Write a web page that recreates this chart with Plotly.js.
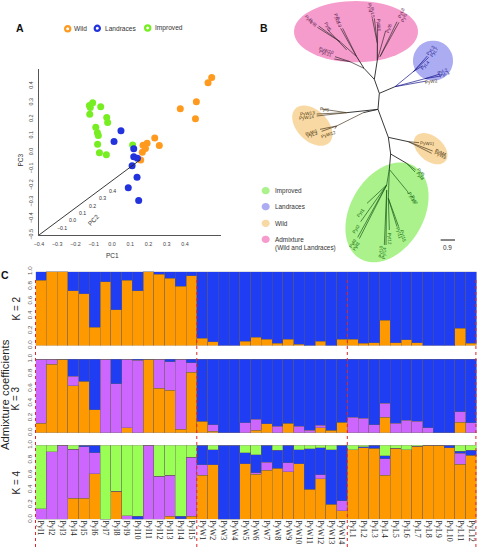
<!DOCTYPE html>
<html><head><meta charset="utf-8">
<script src="https://cdn.plot.ly/plotly-3.0.1.min.js"></script>
<style>html,body{margin:0;padding:0;background:#fff}#c{width:477px;height:548px}</style>
</head><body><div id="c"></div>
<script>
// ---------- Panel A: PCA ----------
const wildPC1 = [0.546,0.526,0.462,0.374,0.457,0.234,0.259,0.192,0.170,0.183,0.166,0.157];
const wildPC3 = [0.451,0.419,0.304,0.262,0.201,0.085,0.040,0.054,0.042,0.022,0.000,-0.048];
const landPC1 = [0.049,0.011,0.119,0.119,0.139,0.110,0.137,0.089,0.146];
const landPC3 = [0.129,0.064,0.020,-0.028,-0.036,-0.082,-0.151,-0.215,-0.292];
const imprPC1 = [-0.106,-0.124,-0.119,-0.062,-0.122,-0.029,-0.024,-0.089,-0.080,-0.075,-0.079,-0.069,-0.031,0.113];
const imprPC3 = [0.298,0.282,0.270,0.274,0.229,0.209,0.179,0.151,0.117,0.101,0.048,-0.004,-0.016,0.044];
const pc2AxisX = [-0.4,0.152];
const pc2AxisY = [-0.5,-0.048];
const pc2Ticks = ['\u22120.1','0.0','0.1','0.2','0.3','0.4'];
const pc2TickX = [-0.272,-0.217,-0.163,-0.106,-0.051,0.005];
const pc2TickY = [-0.457,-0.412,-0.368,-0.324,-0.279,-0.235];
// ---------- Panel B: unrooted tree (branch ends in tree units) ----------
const trunkEdges = [[403,238,418,280],[418,280,414,328],[414,328,445,412],[445,412,452,462],[452,462,448,508],
 [403,238,412,180],[403,238,372,205],[372,205,350,170],[418,280,465,260],[414,328,370,338],[414,328,320,338],
 [445,412,505,425],[452,462,500,490]];
const admixEdges = [[350,170,300,125],[300,125,236,78],[300,125,232,82],[320,150,262,88],[350,170,302,85],[350,170,308,85],
 [372,205,330,185],[330,185,285,170],[330,185,283,177],[412,180,412,130],[412,130,397,55],[412,130,403,55],[412,180,413,70],
 [412,180,437,92],[420,170,471,65],[420,170,477,67]];
const landEdges = [[465,260,520,215],[520,215,562,168],[520,215,566,172],[520,215,548,197],[465,260,555,236],[555,236,600,222],[555,236,602,228],[465,260,560,243]];
const wildEdges = [[320,338,245,327],[320,338,230,342],[320,338,230,348],[370,338,290,378],[290,378,240,388],[290,378,245,394],[290,378,285,386],
 [505,425,537,428],[505,425,578,453],[505,425,575,460]];
const imprEdges = [[500,490,527,510],[500,490,525,516],[448,508,503,575],[503,575,505,582],[448,508,440,555],[440,555,381,610],[440,555,362,665],[440,555,353,712],[440,555,358,716],
 [448,508,445,595],[445,595,471,680],[445,595,476,680],[445,595,448,690],[440,570,433,735],[440,570,438,735]];
// tip labels: name, x, y, angle
const admixTips = [['PyI4',207,58,48],['PyI8',218,68,48],['PyI6',263,80,60],['PyL3',291,55,75],['PyL9',298,66,75],
 ['PyI4',390,25,85],['PyL5',397,38,85],['PyW6',418,75,88],['PyI6',448,83,-70],['PyL8',483,40,-68],['PyI5',492,52,-68],
 ['PyW10',258,150,18],['PyL11',257,160,18]];
const landTips = [['PyL3',571,150,-52],['PyL7',582,157,-52],['PyL4',555,197,-48],['PyL2',607,213,-22],['PyL1',612,222,-22]];
const wildTips = [['PyW2',575,244,-8],['PyI6',256,327,8],['PyW13',201,340,-6],['PyW14',200,351,-6],['PyW1',214,396,-18],['PyL3',218,404,-18],['PyW12',265,403,-18],
 ['PyW11',563,430,3],['PyM4',602,456,25],['PyW3',602,467,25]];
const imprTips = [['PyI5',543,518,50],['PyI8',541,530,50],['PyI13',515,593,62],['PyI7',523,602,62],
 ['PyI1',363,638,-52],['PyI2',349,685,-55],['PyI9',338,730,-58],['PyI8',347,738,-58],
 ['PyI12',449,715,88],['PyI11',478,700,75],['PyI15',488,707,75],['PyI10',423,755,-85],['PyI14',433,758,-85]];
// ---------- Panel C: admixture ----------
const accessions = ['PyI1','PyI2','PyI3','PyI4','PyI5','PyI6','PyI7','PyI8','PyI9','PyI10','PyI11','PyI12','PyI13','PyI14','PyI15',
 'PyW1','PyW2','PyW3','PyW4','PyW5','PyW6','PyW7','PyW8','PyW9','PyW10','PyW11','PyW12','PyW13','PyW14',
 'PyL1','PyL2','PyL3','PyL4','PyL5','PyL6','PyL7','PyL8','PyL9','PyL10','PyL11','PyL12'];
const k2Orange = [.88,1,1,.74,.70,.25,.86,.48,.88,.74,1,.96,.91,.80,.94,.10,.05,0,0,.06,.11,.085,.03,.085,.02,0,.06,0,.085,.085,.03,.035,.34,.04,.08,.04,0,0,0,.23,.03];
const k2Blue   = [.12,0,0,.26,.30,.75,.14,.52,.12,.26,0,.04,.09,.20,.06,.90,.95,1,1,.94,.89,.915,.97,.915,.98,1,.94,1,.915,.915,.97,.965,.66,.96,.92,.96,1,1,1,.77,.97];
const k3Orange = [.13,.93,1,.64,.70,.31,0,0,.07,0,1,.60,.575,.045,.82,.155,.02,0,0,0,.03,.12,0,.13,0,0,.07,.03,.14,0,0,0,.21,0,0,0,0,0,0,.145,0];
const k3Purple = [.87,.07,0,.125,0,0,1,.665,.93,.98,0,.40,.39,.955,.13,0,.09,0,0,.135,.15,0,.085,0,.09,.03,.03,.005,0,.21,.195,.11,.19,.13,.17,.155,.07,0,0,.14,.135];
const k3Blue   = [0,0,0,.235,.30,.69,0,.335,0,.02,0,0,.035,0,.05,.845,.89,1,1,.865,.82,.88,.915,.87,.91,.97,.90,.965,.86,.79,.805,.89,.60,.87,.83,.845,.93,1,1,.715,.865];
const k4Orange = [0,0,0,.284,.284,.617,0,.38,0,0,0,0,.04,.01,.04,.595,.735,0,0,.75,.61,.66,.69,.645,.75,.405,.55,.20,.115,.94,.97,.96,.595,.96,.94,.985,1,1,.97,.745,.865];
const k4Purple = [.144,.91,1,.662,.696,.283,0,0,.05,0,1,.58,.555,0,.80,.145,.005,0,0,0,.02,.11,0,.12,0,0,.05,0,.135,0,0,0,.225,0,0,0,0,0,0,.15,0];
const k4Blue   = [0,0,0,0,.02,.10,0,0,0,.04,0,0,0,.03,0,.26,.197,1,1,.15,.24,.23,.24,.235,.19,.55,.37,.74,.75,0,.01,.04,.04,0,0,0,0,0,.03,.025,.07];
const k4Green  = [.856,.09,0,.054,0,0,1,.62,.95,.96,0,.42,.405,.96,.16,0,.063,0,0,.10,.13,0,.07,0,.06,.045,.03,.06,0,.06,.02,0,.14,.04,.06,.015,0,0,0,.08,.065];
const yTicks = [0,.2,.4,.6,.8,1];

const W=477,H=548;
const fx=p=>p/W, fy=p=>1-p/H;
const ORANGE='#ff9900',BLUE='#1f3df2',PURPLE='#cc66ff',GREEN='#99ff55';
const SANS='"Liberation Sans",Arial,sans-serif', SERIF='"Liberation Serif","Times New Roman",serif';
const TXT='#333333';

function edgeTrace(edges,color,width){
  const x=[],y=[];
  edges.forEach(e=>{x.push(e[0],e[2],null);y.push(e[1],e[3],null);});
  return {type:'scatter',mode:'lines',x,y,xaxis:'x2',yaxis:'y2',hoverinfo:'skip',showlegend:false,line:{color,width:width||0.7}};
}
function pts(x,y,c,name){return {type:'scatter',mode:'markers',name,x,y,xaxis:'x',yaxis:'y',showlegend:false,marker:{color:c,size:7,line:{width:0}}};}
function bars(k,name,y,c){return {type:'bar',name,x:accessions,y,xaxis:'x'+k,yaxis:'y'+k,showlegend:false,
   marker:{color:c,line:{color:'rgba(105,95,95,0.8)',width:0.5}}};}

const traces=[
 pts(imprPC1,imprPC3,'#77ee22','Improved'),
 pts(wildPC1,wildPC3,'#ff9a1f','Wild'),
 pts(landPC1,landPC3,'#2233dd','Landraces'),
 {type:'scatter',mode:'lines',x:pc2AxisX,y:pc2AxisY,xaxis:'x',yaxis:'y',hoverinfo:'skip',showlegend:false,line:{color:'#222',width:0.9}},
 edgeTrace(trunkEdges,'#222',0.9),edgeTrace(admixEdges,'#3a2a32'),edgeTrace(landEdges,'#14148c'),
 edgeTrace(wildEdges,'#4a3a20'),edgeTrace(imprEdges,'#1a5a1a'),
 bars(3,'Cluster 1',k2Orange,ORANGE),bars(3,'Cluster 2',k2Blue,BLUE),
 bars(4,'Cluster 1',k3Orange,ORANGE),bars(4,'Cluster 3',k3Purple,PURPLE),bars(4,'Cluster 2',k3Blue,BLUE),
 bars(5,'Cluster 1',k4Orange,ORANGE),bars(5,'Cluster 3',k4Purple,PURPLE),bars(5,'Cluster 2',k4Blue,BLUE),bars(5,'Cluster 4',k4Green,GREEN)
];

function ell(cx,cy,a,b,deg){
  let d='';const t=deg*Math.PI/180;
  for(let i=0;i<72;i++){const u=i/72*2*Math.PI,ex=a*Math.cos(u),ey=b*Math.sin(u);
    d+=(i?'L':'M')+(cx+ex*Math.cos(t)-ey*Math.sin(t)).toFixed(1)+','+(cy+ex*Math.sin(t)+ey*Math.cos(t)).toFixed(1);}
  return d+'Z';
}
function blob(d,c){return {type:'path',xref:'x2',yref:'y2',path:d,fillcolor:c,line:{width:0},layer:'below'};}
const shapes=[
 blob(ell(348,95,186,92,0),'#f59ccc'),
 blob(ell(579,182,60,60,0),'#acacf2'),
 blob(ell(217,377,72,46,45),'#f9d9a3'),
 blob(ell(572,446,58,37,40),'#f9d9a3'),
 blob(ell(441,637,161,110,-60),'#abf28c'),
 blob(ell(77,572,12,11,0),'#abf28c'),blob(ell(77,620,12,11,0),'#acacf2'),
 blob(ell(77,670,12,11,0),'#f9d9a3'),blob(ell(77,718,12,11,0),'#f59ccc'),
 {type:'line',xref:'x2',yref:'y2',x0:602,x1:645,y0:720,y1:720,line:{color:'#111',width:1}}
];
[[67.7,28.7,'#ff9a1f'],[97.3,28.3,'#2233dd'],[147.7,28,'#77ee22']].forEach(r=>{
  shapes.push({type:'circle',xref:'paper',yref:'paper',x0:fx(r[0]-2.6),x1:fx(r[0]+2.6),y0:fy(r[1]+2.6),y1:fy(r[1]-2.6),fillcolor:'#fff',line:{color:r[2],width:2.2}});
});
[35.5,196.8,347.3,475.9].forEach(x=>{
  shapes.push({type:'line',xref:'paper',yref:'paper',x0:fx(x),x1:fx(x),y0:fy(280),y1:fy(548),line:{color:'#e0262a',width:1,dash:'3px,3px'}});
});

const ann=[];
function note(text,x,y,size,opt){opt=opt||{};
  ann.push({text,x:opt.data||opt.tree?x:fx(x),y:opt.data||opt.tree?y:fy(y),
    xref:opt.data?'x':(opt.tree?'x2':'paper'),yref:opt.data?'y':(opt.tree?'y2':'paper'),
    showarrow:false,xanchor:opt.anchor||'center',yanchor:'middle',textangle:opt.angle||0,borderpad:0,
    font:{family:opt.family||SANS,size,color:opt.color||TXT}});
}
note('<b>A</b>',20,28,10.5,{color:'#111'});note('<b>B</b>',264,28,10.5,{color:'#111'});note('<b>C</b>',4.5,275,10.5,{color:'#111'});
note('Wild',73.3,28.5,6.6,{anchor:'left'});note('Landraces',104,28.5,6.6,{anchor:'left'});note('Improved',153.7,28,6.6,{anchor:'left'});
note('PC1',112,255,6.5);note('PC3',19.5,160,6.5,{angle:-90});
pc2Ticks.forEach((t,i)=>note(t,pc2TickX[i],pc2TickY[i],5.2,{data:1}));
note('PC2',-0.099,-0.408,6.5,{data:1,angle:-47});
[['Improved',572],['Landraces',620],['Wild',670],['Admixture',718],['(Wild and Landraces)',744]].forEach(e=>note(e[0],102,e[1],6.4,{tree:1,anchor:'left'}));
note('0.9',623,742,6.4,{tree:1});
[[admixTips,'#5a2550'],[landTips,'#16168c'],[wildTips,'#4a3510'],[imprTips,'#0f6a0f']].forEach(g=>{
  g[0].forEach(t=>note(t[0],t[1],t[2],4.6,{tree:1,angle:t[3],color:g[1]}));
});
note('Admixture coefficients',5,395,11.3,{angle:-90,color:'#222'});
note('K = 2',15.5,308,10,{angle:-90,color:'#222'});
note('K = 3',15.5,398,10,{angle:-90,color:'#222'});
note('K = 4',15.5,482,10,{angle:-90,color:'#222'});

const yBar=(top,bot)=>({domain:[fy(bot),fy(top)],range:[0,1],tickvals:yTicks,ticktext:yTicks.map(v=>v.toFixed(1)),tickangle:-90,
   ticks:'outside',ticklen:4,tickwidth:0.5,tickcolor:'rgba(0,0,0,0)',tickfont:{family:SANS,size:6.2,color:'#555'},showgrid:false,zeroline:false,showline:false});
const xBar=(labels,anchor)=>({domain:[fx(35.5),fx(476.5)],anchor,type:'category',categoryorder:'array',categoryarray:accessions,range:[-0.5,40.5],
   showticklabels:labels,ticks:'',showgrid:false,zeroline:false,showline:false,tickangle:90,tickmode:'array',tickvals:accessions,ticktext:accessions,
   tickfont:{family:SERIF,size:8,color:'#222'}});

const layout={width:W,height:H,margin:{l:0,r:0,t:0,b:0,pad:0},paper_bgcolor:'#fff',plot_bgcolor:'rgba(0,0,0,0)',showlegend:false,
 barmode:'stack',bargap:0,
 xaxis:{domain:[fx(39),fx(221)],range:[-0.4,0.597],anchor:'y',tickvals:[-.4,-.3,-.2,-.1,0,.1,.2,.3,.4],ticktext:['\u22120.4','\u22120.3','\u22120.2','\u22120.1','0.0','0.1','0.2','0.3','0.4'],
   ticks:'outside',ticklen:4,tickcolor:'rgba(0,0,0,0)',tickfont:{family:SANS,size:5.4,color:'#444'},showgrid:false,zeroline:false,showline:true,linecolor:'#555',linewidth:1},
 yaxis:{domain:[fy(235),fy(69)],range:[-0.5,0.502],anchor:'x',tickvals:[-.5,-.4,-.3,-.2,-.1,0,.1,.2,.3,.4],ticktext:['\u22120.5','\u22120.4','\u22120.3','\u22120.2','\u22120.1','0.0','0.1','0.2','0.3','0.4'],tickangle:-90,
   ticks:'outside',ticklen:3,tickcolor:'rgba(0,0,0,0)',tickfont:{family:SANS,size:5.4,color:'#444'},showgrid:false,zeroline:false,showline:true,linecolor:'#555',linewidth:1},
 xaxis2:{domain:[fx(240),1],range:[0,711],anchor:'y2',visible:false,fixedrange:true},
 yaxis2:{domain:[fy(270),1],range:[810,0],anchor:'x2',visible:false,fixedrange:true},
 xaxis3:xBar(false,'y3'),yaxis3:yBar(271.5,345.5),
 xaxis4:xBar(false,'y4'),yaxis4:yBar(359,432.7),
 xaxis5:xBar(true,'y5'),yaxis5:yBar(445.3,519.3),
 shapes,annotations:ann};
Plotly.newPlot('c',traces,layout,{displayModeBar:false,staticPlot:true});
</script></body></html>
